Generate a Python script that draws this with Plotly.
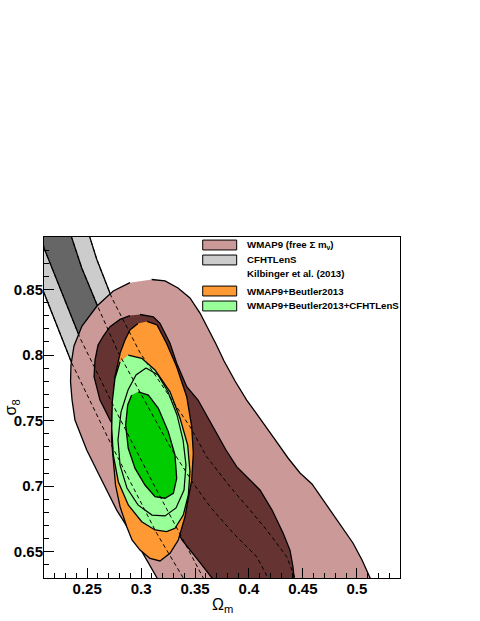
import plotly.graph_objects as go

# ---------------- data (Omega_m, sigma_8) ----------------
# CFHTLenS (Kilbinger et al. 2013) contour edges
cfht_ol_om = [0.1785, 0.2100, 0.2357, 0.2730, 0.3145, 0.3391, 0.3546]
cfht_ol_s8 = [0.9130, 0.8470, 0.7939, 0.7306, 0.6641, 0.6300, 0.6094]
cfht_il_om = [0.2024, 0.2100, 0.2434, 0.2777, 0.3110, 0.3389, 0.3574, 0.3685]
cfht_il_s8 = [0.9182, 0.8816, 0.8130, 0.7558, 0.7024, 0.6590, 0.6300, 0.6132]
cfht_ir_om = [0.2248, 0.2357, 0.2449, 0.2603, 0.2789, 0.3083, 0.3268, 0.3484,
              0.3639, 0.3855, 0.4072, 0.4177, 0.4288]
cfht_ir_s8 = [0.9220, 0.8895, 0.8666, 0.8361, 0.8018, 0.7581, 0.7301, 0.7022,
              0.6844, 0.6641, 0.6462, 0.6300, 0.6170]
cfht_or_om = [0.2452, 0.2526, 0.2589, 0.2728, 0.2990, 0.3453, 0.3608, 0.3824,
              0.4010, 0.4164, 0.4350, 0.4427, 0.4519]
cfht_or_s8 = [0.9182, 0.8895, 0.8730, 0.8437, 0.8018, 0.7454, 0.7225, 0.6996,
              0.6818, 0.6666, 0.6462, 0.6300, 0.6170]

# WMAP9 (free sum m_nu) 2-sigma and 1-sigma
wmap2_om = [0.3098, 0.3222, 0.3342, 0.3453, 0.3546, 0.3620, 0.3694, 0.3769, 0.3871,
            0.3979, 0.4102, 0.4232, 0.4362, 0.4473, 0.4584, 0.4686, 0.4816, 0.4964,
            0.5048, 0.5122, 0.5215, 0.3222, 0.3148, 0.2928, 0.2774, 0.2619, 0.2496,
            0.2387, 0.2360, 0.2346, 0.2350, 0.2378, 0.2452, 0.2591, 0.2742, 0.2897]
wmap2_s8 = [0.8576, 0.8565, 0.8511, 0.8435, 0.8320, 0.8206, 0.8084, 0.7955, 0.7802,
            0.7657, 0.7520, 0.7367, 0.7215, 0.7101, 0.7017, 0.6895, 0.6742, 0.6567,
            0.6437, 0.6300, 0.6132, 0.6132, 0.6300, 0.6615, 0.6818, 0.7072, 0.7276,
            0.7505, 0.7657, 0.7794, 0.7924, 0.8069, 0.8221, 0.8374, 0.8488, 0.8552]
wmap1_om = [0.2990, 0.3113, 0.3175, 0.3268, 0.3330, 0.3423, 0.3528, 0.3611, 0.3701,
            0.3787, 0.3886, 0.3991, 0.4102, 0.4214, 0.4316, 0.4380, 0.4408, 0.4418,
            0.4427, 0.3657, 0.3657, 0.3528, 0.3379, 0.3222, 0.3036, 0.2851, 0.2712,
            0.2619, 0.2564, 0.2573, 0.2601, 0.2650, 0.2712, 0.2805, 0.2897]
wmap1_s8 = [0.8309, 0.8292, 0.8242, 0.8089, 0.7937, 0.7759, 0.7657, 0.7535, 0.7405,
            0.7276, 0.7149, 0.7062, 0.6971, 0.6818, 0.6643, 0.6513, 0.6386, 0.6300,
            0.6132, 0.6132, 0.6300, 0.6437, 0.6590, 0.6834, 0.7085, 0.7314, 0.7505,
            0.7657, 0.7835, 0.7962, 0.8076, 0.8145, 0.8216, 0.8272, 0.8301]

# WMAP9+Beutler2013
beut2_om = [0.3055, 0.3148, 0.3237, 0.3330, 0.3423, 0.3469, 0.3484, 0.3469, 0.3435,
            0.3407, 0.3345, 0.3268, 0.3175, 0.3083, 0.2990, 0.2916, 0.2867, 0.2805,
            0.2763, 0.2742, 0.2726, 0.2728, 0.2740, 0.2758, 0.2805, 0.2851, 0.2897, 0.2971]
beut2_s8 = [0.8256, 0.8229, 0.8089, 0.7911, 0.7682, 0.7454, 0.7251, 0.7047, 0.6895,
            0.6767, 0.6590, 0.6488, 0.6430, 0.6449, 0.6513, 0.6590, 0.6691, 0.6844,
            0.7009, 0.7200, 0.7352, 0.7505, 0.7672, 0.7835, 0.8013, 0.8115, 0.8191, 0.8240]
beut1_om = [0.3046, 0.3157, 0.3250, 0.3333, 0.3389, 0.3416, 0.3398, 0.3324, 0.3222,
            0.3101, 0.2971, 0.2869, 0.2805, 0.2786, 0.2814, 0.2879, 0.2953]
beut1_s8 = [0.7901, 0.7848, 0.7718, 0.7543, 0.7352, 0.7161, 0.6971, 0.6834, 0.6773,
            0.6780, 0.6857, 0.6986, 0.7161, 0.7352, 0.7566, 0.7733, 0.7848]

# WMAP9+Beutler2013+CFHTLenS
comb2_om = [0.2881, 0.3006, 0.3129, 0.3268, 0.3361, 0.3432, 0.3453, 0.3438, 0.3391,
            0.3314, 0.3237, 0.3129, 0.3006, 0.2881, 0.2789, 0.2742, 0.2728, 0.2733,
            0.2758, 0.2805]
comb2_s8 = [0.8000, 0.7975, 0.7886, 0.7720, 0.7518, 0.7314, 0.7110, 0.6933, 0.6780,
            0.6679, 0.6653, 0.6666, 0.6729, 0.6857, 0.7034, 0.7238, 0.7441, 0.7644,
            0.7823, 0.7949]
comb1_om = [0.2974, 0.3067, 0.3160, 0.3252, 0.3314, 0.3330, 0.3299, 0.3222, 0.3129,
            0.3036, 0.2944, 0.2881, 0.2857, 0.2876, 0.2913]
comb1_s8 = [0.7720, 0.7695, 0.7594, 0.7415, 0.7238, 0.7060, 0.6946, 0.6908, 0.6920,
            0.7009, 0.7136, 0.7289, 0.7467, 0.7619, 0.7695]

x_ticks = [0.25, 0.3, 0.35, 0.4, 0.45, 0.5]
y_ticks = [0.65, 0.7, 0.75, 0.8, 0.85]
x_range = [0.21, 0.54]
y_range = [0.63, 0.89]

legend_labels = ["WMAP9 (free \u03a3 m<sub>\u03bd</sub>)", "CFHTLenS",
                 "Kilbinger et al. (2013)", "WMAP9+Beutler2013",
                 "WMAP9+Beutler2013+CFHTLenS"]
legend_colors = ["#cc9999", "#cccccc", None, "#ff9933", "#99ff99"]

# ---------------- styles ----------------
C_LGRAY, C_DGRAY = "#cccccc", "#666666"
C_PINK, C_BROWN = "#cc9999", "#663333"
C_ORANGE = "#ff9933"
C_LGREEN, C_DGREEN = "#99ff99", "#00cc00"
FONT = "Liberation Sans, Arial, Helvetica, sans-serif"

fig = go.Figure()


def filled(xs, ys, color):
    fig.add_trace(go.Scatter(x=xs, y=ys, mode="lines", fill="toself",
                             fillcolor=color, line=dict(color="black", width=1.3),
                             hoverinfo="skip", showlegend=False))


def outline(xs, ys, dash="solid", close=False, width=1.2):
    if close:
        xs = list(xs) + [xs[0]]
        ys = list(ys) + [ys[0]]
    fig.add_trace(go.Scatter(x=xs, y=ys, mode="lines",
                             line=dict(color="black", width=width, dash=dash),
                             hoverinfo="skip", showlegend=False))


# CFHTLenS bands
filled(cfht_ol_om[::-1] + cfht_or_om, cfht_ol_s8[::-1] + cfht_or_s8, C_LGRAY)
filled(cfht_il_om[::-1] + cfht_ir_om, cfht_il_s8[::-1] + cfht_ir_s8, C_DGRAY)
# WMAP9
filled(wmap2_om, wmap2_s8, C_PINK)
filled(wmap1_om, wmap1_s8, C_BROWN)
# WMAP9 + Beutler
filled(beut2_om, beut2_s8, C_ORANGE)
# combined
filled(comb2_om, comb2_s8, C_LGREEN)
filled(comb1_om, comb1_s8, C_DGREEN)
outline(beut1_om, beut1_s8, close=True)
# CFHTLenS edges dashed on top
for xs, ys in [(cfht_ol_om, cfht_ol_s8), (cfht_il_om, cfht_il_s8),
               (cfht_ir_om, cfht_ir_s8), (cfht_or_om, cfht_or_s8)]:
    outline(xs, ys, dash="4px,3px", width=1.0)

# ---------------- legend (drawn manually, ROOT style) ----------------
box_x0, box_x1 = 0.4458, 0.5413
text_x = 0.5646
rows_y = [0.9765, 0.9326, 0.8935, 0.8416, 0.7977]
box_half = 0.0145
for lab, col, yc in zip(legend_labels, legend_colors, rows_y):
    if col is not None:
        fig.add_shape(type="rect", xref="paper", yref="paper",
                      x0=box_x0, x1=box_x1, y0=yc - box_half, y1=yc + box_half,
                      fillcolor=col, line=dict(color="black", width=1), layer="above")
    fig.add_annotation(xref="paper", yref="paper", x=text_x, y=yc, text=lab,
                       showarrow=False, xanchor="left", yanchor="middle",
                       font=dict(family=FONT, size=9.7, color="black", weight="bold"))

# axis titles
fig.add_annotation(xref="paper", yref="paper", x=0.5, y=-0.082,
                   text="\u03a9<sub>m</sub>", showarrow=False,
                   xanchor="center", yanchor="middle",
                   font=dict(family=FONT, size=16, color="black"))
fig.add_annotation(xref="paper", yref="paper", x=-0.09, y=0.5,
                   text="\u03c3<sub>8</sub>", showarrow=False, textangle=-90,
                   xanchor="center", yanchor="middle",
                   font=dict(family=FONT, size=16, color="black"))

axis_common = dict(showgrid=False, zeroline=False, showline=True, linecolor="black",
                   linewidth=1, mirror=True, ticks="inside", ticklen=10,
                   tickwidth=1, tickcolor="black", ticklabelstandoff=-3,
                   tickfont=dict(family=FONT, size=15, color="black", weight="bold"))

fig.update_xaxes(range=x_range, tickmode="array", tickvals=x_ticks,
                 minor=dict(tickmode="linear", tick0=0.21, dtick=0.01, ticks="inside",
                            ticklen=5, tickcolor="black", tickwidth=1),
                 **axis_common)
fig.update_yaxes(range=y_range, tickmode="array", tickvals=y_ticks,
                 minor=dict(tickmode="linear", tick0=0.63, dtick=0.01, ticks="inside",
                            ticklen=5, tickcolor="black", tickwidth=1),
                 **axis_common)

fig.update_layout(width=480, height=621,
                  margin=dict(l=44, r=80, t=237, b=43, pad=0),
                  plot_bgcolor="white", paper_bgcolor="white",
                  showlegend=False)

fig.write_html("out.html",
               config={"displayModeBar": False},
               post_script="document.body.style.margin='0px';"
                           "document.body.style.overflow='hidden';")
